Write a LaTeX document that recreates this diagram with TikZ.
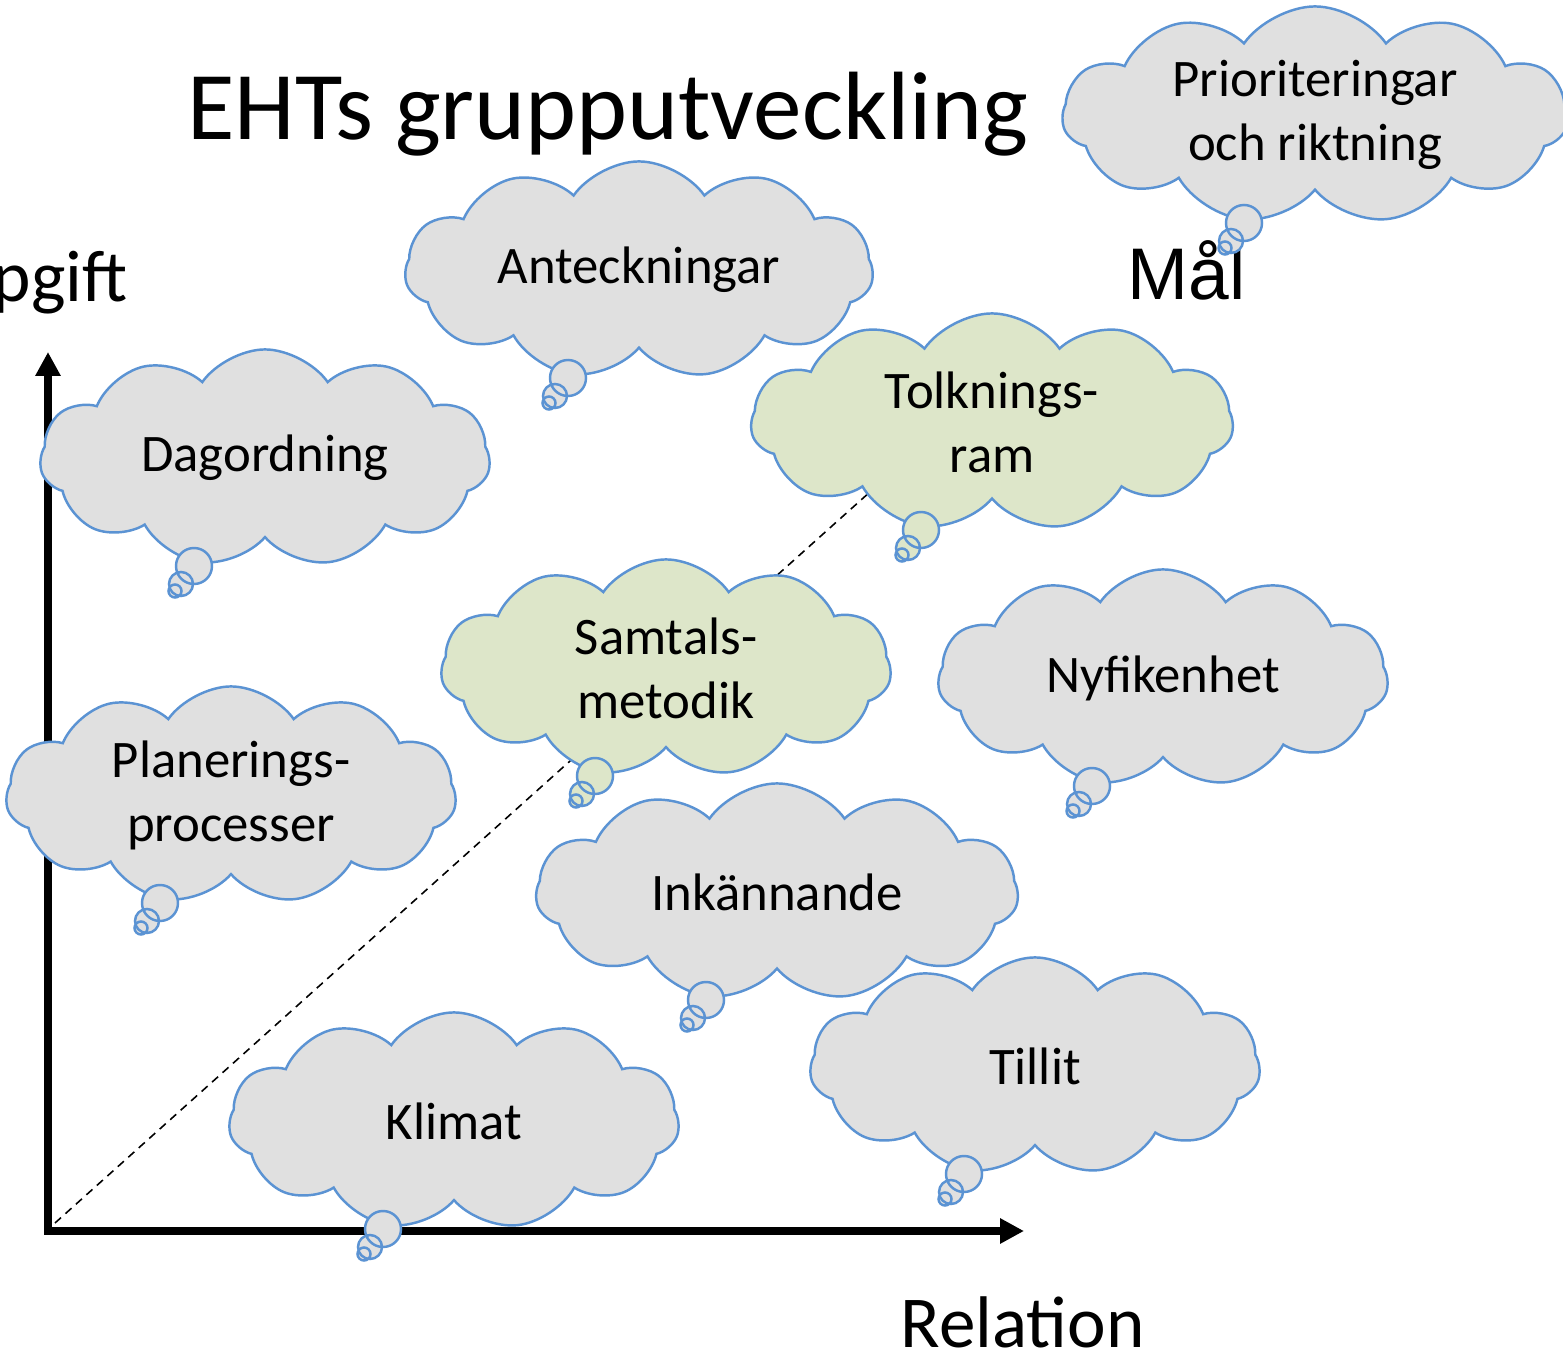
\documentclass[tikz,border=0pt]{standalone}
\usepackage{fontspec}
\setmainfont{Carlito}
\newfontfamily\arialfont{Liberation Sans}
\usepackage{xcolor}
\usetikzlibrary{shapes.symbols,arrows.meta,calc}

\definecolor{cloudline}{HTML}{5B93D3}
\definecolor{cloudgray}{HTML}{E0E0E0}
\definecolor{cloudgreen}{HTML}{DDE6C9}

\newcommand{\bubblor}[2]{%
  \fill[#2] ($(#1)+(-71,108)$) circle[radius=0.18cm]
            ($(#1)+(-84,126)$) circle[radius=0.12cm]
            ($(#1)+(-90,133)$) circle[radius=0.065cm];
  \draw[cloudline, line width=0.7pt]
            ($(#1)+(-71,108)$) circle[radius=0.18cm]
            ($(#1)+(-84,126)$) circle[radius=0.12cm]
            ($(#1)+(-90,133)$) circle[radius=0.065cm];
}

\begin{document}
\begin{tikzpicture}[x=0.01cm, y=-0.01cm,
    tanke/.style={cloud, cloud puffs=11, cloud puff arc=110, cloud ignores aspect,
      draw=cloudline, line width=0.7pt, fill=cloudgray, inner sep=0pt,
      minimum width=4.5cm, minimum height=2.17cm, align=center,
      font=\fontsize{15}{18.2}\selectfont},
    gron/.style={fill=cloudgreen},
    axel/.style={line width=2.1pt, line join=miter,
      {Triangle[length=6.8pt,width=6.8pt]}-{Triangle[length=6.8pt,width=6.8pt]}},
    etikett/.style={inner sep=0pt, font=\fontsize{20.8}{25}\selectfont}]
  \useasboundingbox (0,0) rectangle (1563,1352);

  \node[anchor=base, inner sep=0pt, font=\fontsize{27.6}{32}\selectfont] (rubrik) at (608,140) {EHTs grupputveckling};
  \node[etikett, anchor=base east] (uppgift) at (128,302) {Uppgift};
  \node[anchor=base west, inner sep=0pt, font=\arialfont\fontsize{20.8}{25}\selectfont] (mal) at (1127,300) {Mål};
  \node[etikett, anchor=base west] (relation) at (900,1347) {Relation};

  \coordinate (origo) at (48,1231);
  \coordinate (ytopp) at (48,352);
  \coordinate (xslut) at (1024,1231);
  \coordinate (diagstart) at (55,1223);
  \coordinate (diagslut) at (900,465);
  \draw[axel] (ytopp) -- (origo) -- (xslut);
  \draw[dashed, line width=0.45pt, dash pattern=on 2.3pt off 1.7pt] (diagstart) -- (diagslut);

  \node[tanke, minimum width=5.05cm] (prio) at (1315,115) {Prioriteringar\\och riktning};
  \bubblor{prio}{cloudgray}
  \node[tanke, minimum width=4.68cm] (antec) at (639,270) {Anteckningar};
  \bubblor{antec}{cloudgray}
  \node[tanke] (dagord) at (265,458) {Dagordning};
  \bubblor{dagord}{cloudgray}
  \node[tanke, gron, minimum width=4.82cm] (tolk) at (992,422) {Tolknings-\\ram};
  \bubblor{tolk}{cloudgreen}
  \node[tanke, gron] (samtal) at (666,668) {Samtals-\\metodik};
  \bubblor{samtal}{cloudgreen}
  \node[tanke] (nyfiken) at (1163,678) {Nyfikenhet};
  \bubblor{nyfiken}{cloudgray}
  \node[tanke] (planer) at (231,795) {Planerings-\\processer};
  \bubblor{planer}{cloudgray}
  \node[tanke, minimum width=4.82cm] (inkann) at (777,892) {Inkännande};
  \bubblor{inkann}{cloudgray}
  \node[tanke] (tillit) at (1035,1066) {Tillit};
  \bubblor{tillit}{cloudgray}
  \node[tanke] (klimat) at (454,1121) {Klimat};
  \bubblor{klimat}{cloudgray}
\end{tikzpicture}
\end{document}
